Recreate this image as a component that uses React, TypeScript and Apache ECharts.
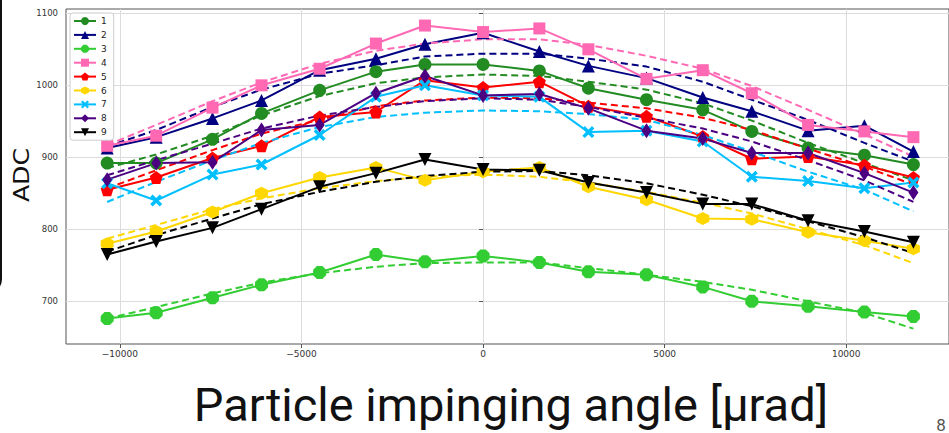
import React, { useEffect, useRef } from 'react';
import * as echarts from 'echarts';

// Beam angle scan: incidence angle in µrad
const angles = [-10350, -9000, -7450, -6100, -4500, -2950, -1600, 0, 1550, 2900, 4500, 6050, 7400, 8950, 10500, 11850];

const channelNames = ['1', '2', '3', '4', '5', '6', '7', '8', '9'];
const channelColors = ['#228B22', '#000080', '#32CD32', '#FF69B4', '#FF0000', '#FFD700', '#00BFFF', '#4B0082', '#000000'];

// Measured ADC per channel
const adc1 = [892, 892, 925, 961, 993, 1019, 1029, 1029, 1020, 996, 980, 966, 936, 913, 903, 890];
const adc2 = [913, 928, 954, 979, 1021, 1037, 1057, 1073, 1047, 1027, 1010, 983, 964, 937, 944, 908];
const adc3 = [676, 684, 705, 723, 740, 765, 755, 763, 754, 741, 737, 720, 700, 693, 685, 679];
const adc4 = [916, 930, 969, 1000, 1023, 1058, 1083, 1074, 1079, 1050, 1009, 1021, 989, 945, 936, 928];
const adc5 = [855, 872, 899, 916, 956, 963, 1007, 997, 1005, 971, 957, 929, 898, 901, 889, 872];
const adc6 = [780, 797, 824, 850, 872, 886, 868, 880, 886, 859, 841, 815, 814, 796, 784, 773];
const adc7 = [864, 840, 876, 890, 931, 984, 1000, 986, 984, 935, 937, 922, 873, 867, 857, 865];
const adc8 = [869, 892, 893, 938, 945, 989, 1013, 986, 988, 968, 937, 926, 906, 906, 878, 851];
const adc9 = [765, 783, 802, 828, 859, 878, 897, 883, 882, 865, 851, 835, 835, 812, 797, 782];

// Quadratic fits evaluated at the scan angles
const fit1 = [885, 904, 930, 958, 985, 1003, 1011, 1015, 1013, 1005, 994, 975, 951, 920, 892, 868];
const fit2 = [915, 938, 970, 994, 1016, 1028, 1040, 1044, 1044, 1037, 1026, 1005, 980, 952, 920, 894];
const fit3 = [676, 692, 711, 726, 739, 748, 753, 754, 754, 746, 737, 727, 716, 700, 684, 662];
const fit4 = [917, 945, 978, 1004, 1030, 1048, 1058, 1064, 1064, 1056, 1041, 1023, 999, 966, 932, 901];
const fit5 = [857, 882, 910, 933, 952, 971, 979, 983, 982, 976, 968, 955, 938, 912, 887, 862];
const fit6 = [787, 806, 828, 843, 857, 867, 873, 876, 873, 865, 852, 837, 822, 800, 778, 753];
const fit7 = [838, 866, 896, 920, 942, 956, 962, 965, 964, 960, 952, 931, 908, 880, 855, 825];
const fit8 = [875, 896, 919, 940, 958, 970, 978, 982, 980, 970, 955, 940, 922, 896, 868, 838];
const fit9 = [769, 792, 815, 835, 852, 866, 874, 880, 881, 875, 864, 848, 832, 811, 789, 767];

const xTicks = [-10000, -5000, 0, 5000, 10000];
const yTicks = [700, 800, 900, 1000, 1100];

const measured = [adc1, adc2, adc3, adc4, adc5, adc6, adc7, adc8, adc9];
const fits = [fit1, fit2, fit3, fit4, fit5, fit6, fit7, fit8, fit9];

const PENTAGON = 'path://M0,-1 L0.951,-0.309 L0.588,0.809 L-0.588,0.809 L-0.951,-0.309 Z';
const HEXAGON = 'path://M0,-1 L0.866,-0.5 L0.866,0.5 L0,1 L-0.866,0.5 L-0.866,-0.5 Z';
const OCTAGON = 'path://M-0.414,-1 L0.414,-1 L1,-0.414 L1,0.414 L0.414,1 L-0.414,1 L-1,0.414 L-1,-0.414 Z';
const FILLED_X = 'path://M-1,-0.6 L-0.6,-1 L0,-0.4 L0.6,-1 L1,-0.6 L0.4,0 L1,0.6 L0.6,1 L0,0.4 L-0.6,1 L-1,0.6 L-0.4,0 Z';
const TRI_DOWN = 'path://M-1,-0.85 L1,-0.85 L0,0.9 Z';

const markers: { symbol: string; size: number | number[] }[] = [
  { symbol: 'circle', size: 13 },
  { symbol: 'triangle', size: 13 },
  { symbol: OCTAGON, size: 13 },
  { symbol: 'rect', size: 12 },
  { symbol: PENTAGON, size: 13 },
  { symbol: HEXAGON, size: 13 },
  { symbol: FILLED_X, size: 12 },
  { symbol: 'diamond', size: [10, 15] },
  { symbol: TRI_DOWN, size: 13 },
];

const toPairs = (vals: number[]) => angles.map((a, i) => [a, vals[i]]);

export default function App() {
  const ref = useRef<HTMLDivElement>(null);

  useEffect(() => {
    if (!ref.current) return;
    const chart = echarts.init(ref.current, undefined, { renderer: 'svg' });

    const series: any[] = [];
    channelNames.forEach((name, i) => {
      series.push({
        name,
        type: 'line',
        data: toPairs(measured[i]),
        symbol: markers[i].symbol,
        symbolSize: markers[i].size,
        showAllSymbol: true,
        color: channelColors[i],
        lineStyle: { color: channelColors[i], width: 2 },
        itemStyle: { color: channelColors[i] },
        emphasis: { disabled: true },
      });
      series.push({
        name: 'fit ' + name,
        type: 'line',
        data: toPairs(fits[i]),
        symbol: 'none',
        color: channelColors[i],
        lineStyle: { color: channelColors[i], width: 2, type: [7, 4] },
        emphasis: { disabled: true },
      });
    });

    chart.setOption({
      animation: false,
      backgroundColor: '#ffffff',
      grid: {
        left: 66,
        top: 9,
        right: -1,
        bottom: 89,
        show: true,
        borderColor: '#555',
        borderWidth: 1,
      },
      xAxis: {
        type: 'value',
        min: -11484,
        max: 12830,
        axisLine: { show: false },
        axisTick: { show: true, length: 4, lineStyle: { color: '#555' }, customValues: xTicks },
        axisLabel: {
          customValues: xTicks,
          fontSize: 9,
          fontFamily: 'DejaVu Sans',
          color: '#333',
          margin: 5,
          formatter: (v: number) => String(v).replace('-', '\u2212'),
        },
        splitLine: { show: true, lineStyle: { color: '#dcdcdc', width: 1 } },
      },
      yAxis: {
        type: 'value',
        min: 640.7,
        max: 1106,
        axisLine: { show: false },
        axisTick: { show: true, length: 4, lineStyle: { color: '#555' }, customValues: yTicks },
        axisLabel: {
          customValues: yTicks,
          fontSize: 8.5,
          fontFamily: 'DejaVu Sans',
          color: '#333',
          margin: 8,
          formatter: (v: number) => String(v),
        },
        splitLine: { show: true, lineStyle: { color: '#dcdcdc', width: 1 } },
      },
      legend: {
        data: channelNames,
        orient: 'vertical',
        left: 70,
        top: 13,
        padding: [3, 7, 3, 3],
        itemWidth: 22,
        itemHeight: 10,
        itemGap: 3.9,
        backgroundColor: '#fff',
        borderColor: '#ccc',
        borderWidth: 1,
        borderRadius: 3,
        textStyle: { fontSize: 9, lineHeight: 10, fontFamily: 'DejaVu Sans', color: '#222', padding: [0, 0, 0, 0] },
      },
      graphic: [
        {
          type: 'rect',
          shape: { x: -60, y: -30, width: 61, height: 323, r: 14 },
          style: { fill: 'none', stroke: '#111', lineWidth: 2 },
          silent: true,
        },
        {
          type: 'text',
          x: 21,
          y: 175,
          rotation: Math.PI / 2,
          scaleX: 1.2,
          style: {
            text: 'ADC',
            fontSize: 21,
            fontFamily: 'DejaVu Sans',
            fill: '#111',
            textAlign: 'center',
            textVerticalAlign: 'middle',
          },
          silent: true,
        },
        {
          type: 'text',
          x: 511,
          y: 404,
          style: {
            text: 'Particle impinging angle [\u03bcrad]',
            fontSize: 47,
            fontFamily: 'Roboto',
            fill: '#111',
            textAlign: 'center',
            textVerticalAlign: 'middle',
          },
          silent: true,
        },
        {
          type: 'text',
          x: 941,
          y: 433,
          style: {
            text: '8',
            fontSize: 17,
            fontFamily: 'Roboto',
            fill: '#555',
            textAlign: 'center',
            textVerticalAlign: 'bottom',
          },
          silent: true,
        },
      ],
      series,
    });

    return () => chart.dispose();
  }, []);

  return <div ref={ref} style={{ position: 'fixed', left: 0, top: 0, width: 949, height: 433 }} />;
}
